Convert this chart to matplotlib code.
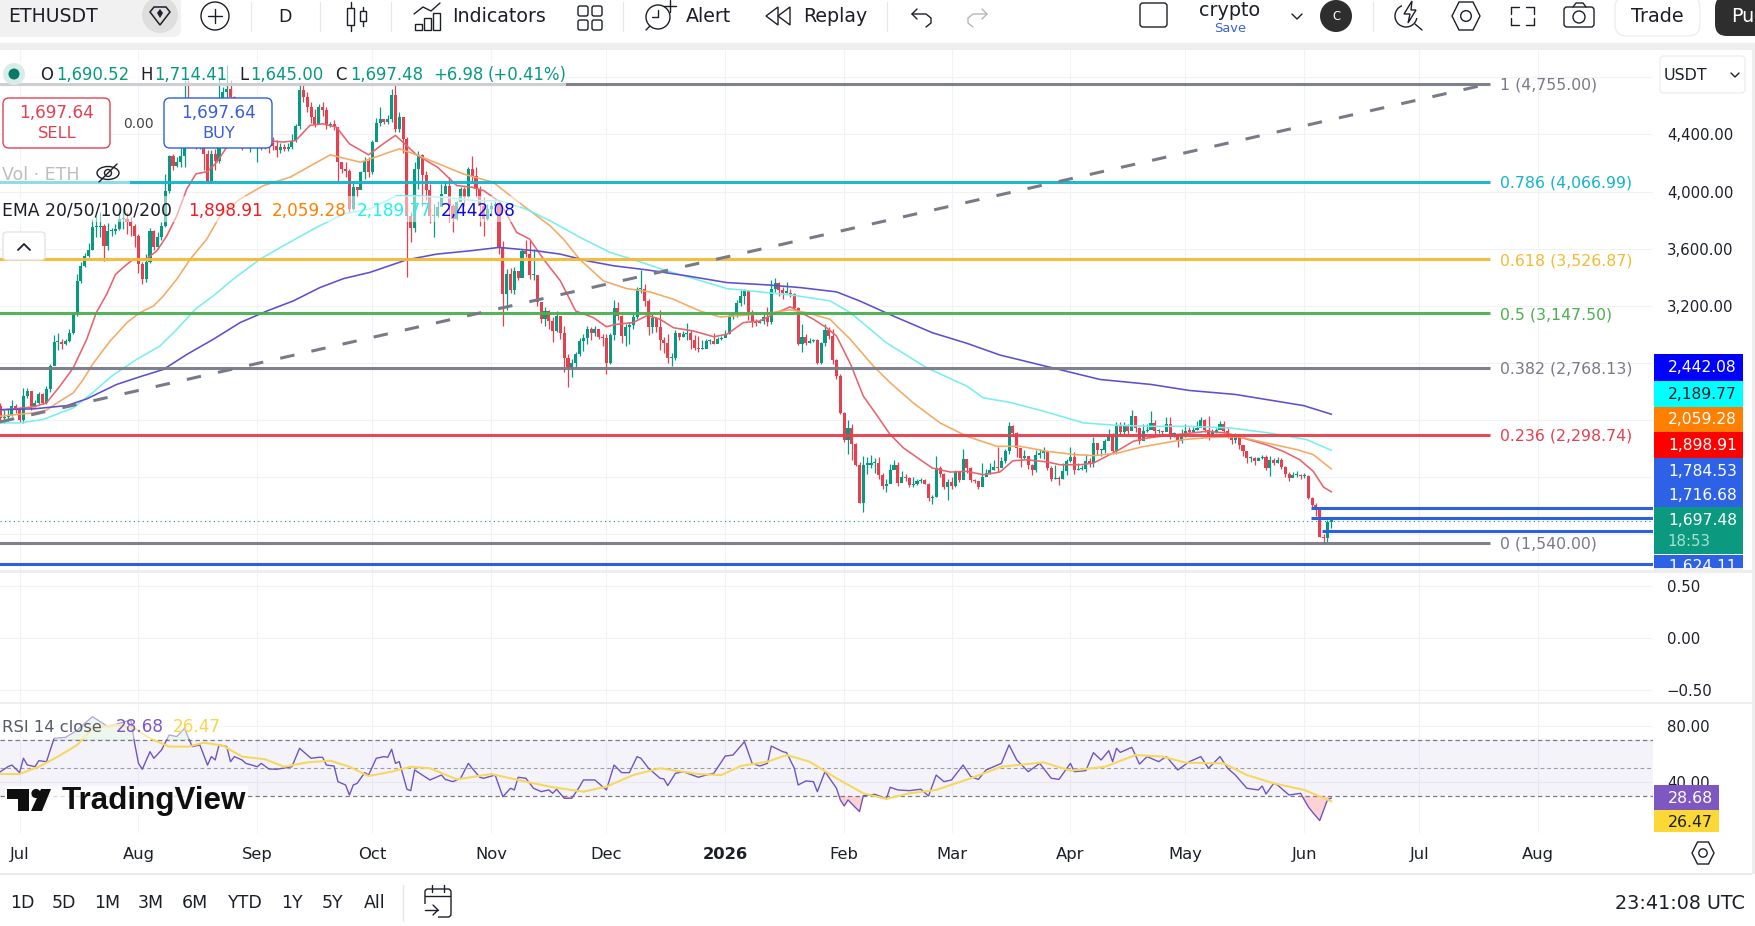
import numpy as np
import matplotlib
matplotlib.use('Agg')
import matplotlib.pyplot as plt
from matplotlib.patches import Rectangle, FancyBboxPatch, Circle, Ellipse, Polygon

W, H = 1755, 926

# daily candles, day 0 = 1 Jul 2025
closes = [
    2416, 2423, 2439, 2498, 2475, 2404, 2568, 2603, 2498, 2521,
    2580, 2521, 2615, 2779, 2947, 2947, 2930, 2954, 3012, 3141,
    3375, 3480, 3546, 3593, 3749, 3749, 3761, 3620, 3726, 3726,
    3738, 3808, 3808, 3784, 3761, 3691, 3492, 3387, 3504, 3726,
    3609, 3679, 3761, 4006, 4252, 4182, 4205, 4252, 4650, 4550,
    4450, 4350, 4400, 4264, 4065, 4264, 4217, 4650, 4700, 4720,
    4661, 4580, 4500, 4450, 4400, 4420, 4360, 4390, 4340, 4360,
    4340, 4320, 4290, 4310, 4300, 4310, 4357, 4462, 4708, 4662,
    4591, 4521, 4474, 4591, 4568, 4463, 4474, 4451, 4205, 4159,
    4147, 3878, 4030, 4014, 4140, 4217, 4135, 4350, 4481, 4509,
    4486, 4509, 4678, 4439, 4521, 4369, 3831, 3742, 4159, 4257,
    4117, 4014, 3831, 3831, 3890, 3983, 4042, 3901, 3808, 3925,
    4018, 3960, 4159, 4112, 4018, 3901, 3808, 3878, 3901, 3913,
    3609, 3281, 3422, 3312, 3445, 3398, 3586, 3562, 3415, 3415,
    3228, 3106, 3164, 3094, 3024, 3129, 3012, 2837, 2767, 2802,
    2860, 2954, 2977, 3036, 3008, 3036, 2984, 2977, 2797, 2996,
    3188, 3129, 2989, 3054, 3064, 3125, 3316, 3321, 3235, 3054,
    3118, 3054, 2961, 2940, 2837, 2837, 3012, 2985, 3001, 3012,
    2961, 2907, 2900, 2900, 2954, 2954, 2930, 2970, 2975, 3005,
    3129, 3141, 3223, 3270, 3305, 3158, 3094, 3083, 3094, 3125,
    3087, 3321, 3363, 3312, 3293, 3293, 3281, 3188, 2931, 2984,
    2942, 2954, 2958, 2802, 2938, 3031, 2989, 2821, 2708, 2451,
    2264, 2346, 2236, 2089, 1820, 2089, 2089, 2100, 2100, 2018,
    1941, 1955, 2053, 2089, 1960, 2002, 1993, 1948, 1955, 1972,
    1978, 1955, 1855, 1862, 2065, 2025, 1929, 1964, 1937, 2037,
    1983, 2128, 2065, 1979, 1972, 1932, 2002, 2030, 2053, 2072,
    2065, 2112, 2182, 2357, 2311, 2205, 2135, 2152, 2088, 2049,
    2159, 2170, 2182, 2065, 1988, 1995, 1990, 2042, 2112, 2142,
    2053, 2058, 2060, 2112, 2100, 2240, 2189, 2194, 2252, 2299,
    2182, 2369, 2318, 2362, 2322, 2428, 2346, 2257, 2322, 2334,
    2381, 2322, 2322, 2315, 2376, 2299, 2299, 2252, 2299, 2322,
    2320, 2334, 2345, 2404, 2329, 2299, 2315, 2334, 2376, 2322,
    2287, 2264, 2299, 2229, 2182, 2135, 2135, 2112, 2135, 2142,
    2065, 2123, 2100, 2123, 2072, 2025, 1998, 2018, 2018, 2006,
    2006, 1854, 1807, 1768, 1585, 1574, 1690.52, 1697.48,
]
highs = [
    2520, 2470, 2480, 2540, 2510, 2490, 2625, 2625, 2605, 2540,
    2600, 2590, 2640, 2790, 2998, 3010, 2970, 2970, 3040, 3155,
    3420, 3510, 3570, 3640, 3810, 3830, 3860, 3770, 3780, 3745,
    3775, 3870, 3880, 3860, 3820, 3770, 3700, 3510, 3560, 3745,
    3730, 3720, 3790, 4120, 4255, 4260, 4240, 4330, 4778, 4778,
    4560, 4430, 4450, 4420, 4290, 4290, 4300, 4800, 4730, 4888,
    4780, 4670, 4590, 4520, 4460, 4470, 4440, 4430, 4410, 4400,
    4390, 4380, 4360, 4340, 4330, 4340, 4400, 4475, 4743, 4755,
    4697, 4626, 4580, 4615, 4626, 4591, 4490, 4498, 4451, 4205,
    4205, 4159, 4065, 4030, 4147, 4240, 4240, 4358, 4514, 4591,
    4509, 4533, 4720, 4748, 4556, 4521, 4381, 3855, 4205, 4287,
    4264, 4147, 4053, 3913, 3936, 4053, 4077, 4100, 3913, 3936,
    4030, 4030, 4170, 4247, 4170, 4042, 3960, 3913, 3925, 3936,
    3890, 3656, 3461, 3468, 3470, 3430, 3600, 3660, 3660, 3600,
    3290, 3230, 3190, 3170, 3120, 3165, 3120, 3060, 2860, 2830,
    2880, 2975, 3000, 3060, 3050, 3060, 3030, 3005, 3000, 3010,
    3240, 3230, 3135, 3070, 3090, 3150, 3330, 3450, 3350, 3250,
    3140, 3120, 3170, 2985, 3000, 2870, 3030, 3000, 3025, 3080,
    3030, 2995, 2990, 2960, 2970, 2965, 3010, 2985, 2990, 3030,
    3140, 3160, 3240, 3310, 3320, 3310, 3170, 3110, 3110, 3140,
    3190, 3380, 3395, 3365, 3330, 3370, 3320, 3290, 3190, 3070,
    3000, 2975, 2970, 2970, 2950, 3070, 3050, 3040, 2830, 2720,
    2460, 2400, 2375, 2240, 2105, 2150, 2140, 2155, 2135, 2140,
    2030, 1985, 2095, 2120, 2105, 2045, 2025, 2000, 2000, 1985,
    1995, 1990, 1960, 1875, 2150, 2080, 2030, 1990, 2000, 2050,
    2040, 2200, 2130, 2070, 1990, 1975, 2100, 2060, 2100, 2120,
    2215, 2140, 2200, 2385, 2365, 2320, 2160, 2190, 2130, 2095,
    2190, 2195, 2210, 2170, 2080, 2085, 2010, 2100, 2130, 2215,
    2175, 2100, 2085, 2165, 2135, 2280, 2240, 2200, 2270, 2335,
    2310, 2390, 2390, 2385, 2370, 2470, 2420, 2350, 2375, 2370,
    2465, 2400, 2335, 2325, 2420, 2420, 2320, 2300, 2335, 2375,
    2355, 2350, 2395, 2420, 2410, 2430, 2340, 2345, 2395, 2395,
    2345, 2300, 2310, 2300, 2220, 2180, 2150, 2145, 2140, 2155,
    2155, 2150, 2135, 2145, 2135, 2080, 2035, 2040, 2045, 2025,
    2030, 2015, 1860, 1820, 1780, 1605, 1700, 1714.41,
]
lows = [
    2380, 2380, 2395, 2430, 2450, 2385, 2380, 2555, 2470, 2490,
    2510, 2510, 2510, 2600, 2785, 2890, 2900, 2925, 2950, 3005,
    3130, 3360, 3470, 3540, 3590, 3680, 3680, 3515, 3590, 3690,
    3700, 3730, 3740, 3700, 3690, 3610, 3430, 3350, 3370, 3500,
    3590, 3600, 3660, 3750, 3990, 4150, 4170, 4170, 4170, 4400,
    4320, 4300, 4300, 4150, 4060, 4060, 4150, 4200, 4620, 4640,
    4640, 4520, 4420, 4290, 4330, 4280, 4320, 4205, 4290, 4300,
    4270, 4290, 4240, 4270, 4285, 4285, 4300, 4345, 4440, 4630,
    4560, 4480, 4450, 4480, 4530, 4440, 4450, 4430, 4072, 4130,
    4100, 3850, 3870, 3960, 4120, 4090, 4100, 4120, 4440, 4460,
    4470, 4470, 4490, 4420, 4420, 4270, 3400, 3650, 3720, 4020,
    3900, 3940, 3780, 3680, 3825, 3900, 3990, 3790, 3714, 3800,
    3950, 3900, 3960, 4060, 3960, 3760, 3690, 3800, 3830, 3880,
    3560, 3060, 3171, 3290, 3280, 3380, 3400, 3540, 3390, 3380,
    3200, 3080, 3060, 3040, 2945, 3020, 2965, 2735, 2630, 2700,
    2770, 2850, 2884, 2930, 2960, 2990, 2970, 2920, 2720, 2790,
    2960, 3100, 2940, 2920, 2930, 3040, 3110, 3290, 3200, 2995,
    3010, 3020, 2890, 2870, 2800, 2780, 2820, 2960, 2980, 2960,
    2900, 2890, 2880, 2895, 2930, 2930, 2930, 2955, 2960, 2990,
    3000, 3110, 3120, 3200, 3210, 3100, 3050, 3060, 3080, 3070,
    3060, 3070, 3300, 3270, 3250, 3290, 3260, 3180, 2925, 2880,
    2925, 2940, 2950, 2790, 2790, 2920, 2970, 2790, 2690, 2440,
    2245, 2160, 2120, 2080, 1820, 1755, 2025, 2065, 2030, 1990,
    1920, 1900, 1985, 2060, 1940, 1980, 1975, 1930, 1935, 1945,
    1960, 1950, 1835, 1810, 1865, 2000, 1920, 1843, 1920, 1930,
    1965, 2000, 2030, 1965, 1960, 1915, 1980, 2010, 2020, 2050,
    2040, 2095, 2100, 2165, 2290, 2145, 2075, 2125, 2055, 2015,
    2040, 2135, 2130, 2050, 1975, 1985, 1945, 1985, 2015, 2110,
    2020, 2050, 2050, 2035, 2070, 2070, 2155, 2150, 2170, 2260,
    2160, 2165, 2290, 2305, 2300, 2340, 2320, 2235, 2310, 2320,
    2360, 2300, 2310, 2305, 2335, 2270, 2285, 2215, 2240, 2280,
    2300, 2320, 2330, 2380, 2320, 2260, 2290, 2310, 2355, 2310,
    2275, 2230, 2240, 2195, 2150, 2100, 2110, 2085, 2125, 2125,
    2050, 2010, 2085, 2100, 2060, 2005, 1975, 2000, 2005, 1990,
    1995, 1845, 1795, 1730, 1580, 1530, 1545, 1645,
]
first_day = -5
first_open = 2500

ema20_days = [-5, 3.6, 7, 10.5, 14, 17.5, 20, 22.7, 25, 27.5, 29.7, 33, 35.8, 38.4, 41, 43.6, 46, 49, 51.4, 54, 60, 64.7, 68.7, 72,
              75.7, 79, 82.6, 86, 91, 94.8, 98, 100.9, 103.5, 109, 114, 118, 121, 125.3, 129.6, 133, 136.6, 141, 145, 149.6, 153,
              155.6, 160, 163.7, 167, 170.5, 175.7, 181, 184.4, 188.7, 193, 196.5, 200.9, 203, 207, 210.4, 213, 216.7, 220, 223.7,
              227, 230.5, 234.8, 238, 242.7, 247, 251.3, 255.6, 259, 262.7, 268, 271.3, 276.5, 280, 283.4, 287, 290.4, 294, 299,
              303.4, 309.5, 314.8, 319, 325, 329.5, 333.8, 337.3, 340, 342]
ema20 = [2470, 2493, 2521, 2638, 2767, 2966, 3153, 3281, 3420, 3480, 3527, 3527, 3585, 3691, 3831, 4018, 4124, 4140, 4205, 4310, 4350, 4357, 4346, 4357,
         4463, 4474, 4451, 4334, 4257, 4334, 4393, 4322, 4257, 4170, 4042, 4030, 4007, 3925, 3714, 3667, 3527, 3375, 3164, 3118, 3054,
         3071, 3083, 3134, 3106, 3047, 3024, 2984, 3001, 3083, 3094, 3141, 3193, 3164, 3106, 3047, 2989, 2790, 2568, 2428,
         2299, 2205, 2124, 2065, 2037, 2042, 2018, 2037, 2116, 2123, 2107, 2088, 2088, 2100, 2147, 2198, 2252, 2275, 2292,
         2304, 2322, 2310, 2275, 2229, 2182, 2123, 2042, 1931, 1898.91]

ema50_days = [-5, 3.6, 7, 10.5, 14, 16.6, 19, 23.6, 28, 31.4, 34.9, 37.5, 41, 44.5, 48.8, 52.3, 57.5, 63.6, 70.5, 81, 88.9, 99, 103.5, 115.7,
              123.5, 129.6, 138.3, 141.8, 146, 152.2, 158.3, 164.3, 170.5, 177.4, 182.7, 188.7, 194.8, 200.9, 205.2, 211.3, 216.6, 222.6,
              227, 233, 240, 247, 254.8, 260.9, 268, 275, 280.3, 286.4, 292.4, 303.4, 312, 318, 325.3, 333, 337.3, 342]
ema50 = [2428, 2451, 2470, 2533, 2591, 2685, 2790, 2954, 3083, 3153, 3199, 3270, 3387, 3527, 3667, 3831, 3948, 4042, 4100, 4257, 4205, 4299, 4257, 4123,
         4065, 3936, 3761, 3667, 3527, 3375, 3321, 3298, 3246, 3164, 3122, 3134, 3148, 3172, 3153, 3106, 2966, 2779,
         2662, 2521, 2381, 2287, 2217, 2217, 2182, 2159, 2152, 2170, 2212, 2264, 2282, 2282, 2240, 2194, 2159, 2059.28]

ema100_days = [-5, 0, 6, 14, 19, 24, 30.5, 36.6, 41, 46, 50.5, 55.7, 62.7, 68.8, 77.4, 84.5, 91.3, 98.3, 103.5, 110.5, 119, 125.3, 132, 138.3,
               147, 154, 161.8, 168.8, 175.7, 184.4, 193, 201.8, 211.3, 216.6, 226, 236.5, 247, 251.3, 258, 267, 277.4, 286, 295, 305, 315.6,
               326, 335.6, 342]
ema100 = [2381, 2381, 2404, 2486, 2591, 2708, 2825, 2919, 3036, 3181, 3270, 3387, 3527, 3621, 3749, 3843, 3878, 3971, 3971, 3960, 3936, 3936, 3878, 3796,
          3667, 3574, 3508, 3445, 3391, 3321, 3298, 3274, 3235, 3153, 2942, 2767, 2638, 2556, 2526, 2463, 2381, 2364, 2357, 2357, 2346,
          2310, 2264, 2189.77]

ema200_days = [-5, 3.6, 12.3, 17.5, 25.3, 31.4, 37.5, 43.6, 50.5, 57.5, 64.5, 71.4, 78.3, 84.5, 91.3, 100.9, 108.7, 117.4, 125, 134.8, 141, 148,
               155, 163.5, 174, 184.4, 194.8, 203.5, 213, 219, 227.8, 238, 247, 255.6, 281.7, 295, 305, 317, 334.8, 342]
ema200 = [2474, 2479, 2502, 2549, 2650, 2704, 2755, 2860, 2966, 3083, 3164, 3235, 3328, 3391, 3434, 3522, 3562, 3585, 3609, 3585, 3562, 3515,
          3480, 3452, 3410, 3363, 3347, 3328, 3298, 3235, 3129, 3012, 2938, 2856, 2685, 2650, 2608, 2580, 2502, 2442.08]

rsi_days = [-5, -3, -2, 0, 1, 2, 4, 5, 7, 9, 12, 15, 19, 23, 29, 30, 31, 32, 34, 35, 37, 39, 41, 43, 45, 47, 49, 50, 51, 52, 54, 55, 56, 58, 59,
            62, 63, 65, 67, 71, 73, 76, 78, 79, 80, 82, 83, 85, 86, 87, 88, 90, 91, 93, 95, 96, 97, 98, 99, 101, 102, 103, 105, 107, 110, 111,
            113, 115, 117, 118, 120, 121, 124, 126, 128, 129, 130, 132, 134, 136, 138, 139, 140, 142, 144, 146, 147, 150, 153, 155, 157, 159,
            161, 162, 164, 167, 168, 169, 171, 173, 177, 179, 181, 184, 186, 189, 191, 193, 195, 196, 199, 200, 202, 203, 205, 207, 208, 210,
            213, 214, 215, 216, 219, 220, 223, 226, 227, 229, 232, 235, 237, 239, 241, 243, 246, 248, 250, 252, 256, 258, 260, 263, 266, 269,
            271, 274, 275, 278, 280, 282, 284, 285, 286, 287, 290, 292, 294, 297, 299, 302, 305, 308, 310, 313, 315, 317, 320, 323, 324, 325,
            327, 328, 331, 334, 336, 337, 339, 341, 342]
rsi = [47.5, 51.1, 52.2, 46.8, 57, 52.3, 51, 55.3, 54.6, 71.2, 71.9, 77, 86.6, 79.5, 84.2, 67.6, 53.4, 49.2, 61.7, 57, 62.9, 73.6, 72.4, 78.3, 65.3, 66.5, 52.2, 58.2, 55.8, 66.5, 65.3, 54.6, 58.2, 55.8, 53.4,
       51, 53.4, 49.4, 49.2, 51, 64.1, 57, 57.7, 57.7, 52.2, 51.5, 40.4, 38, 30.9, 38, 39.2, 46.8, 45.1, 57, 58.2, 57.7, 63.4, 53.4, 54.6, 35, 34, 48.7, 45.1, 41.6, 45.1, 42,
       40.4, 42.8, 53.4, 49.9, 43.5, 42.8, 45.1, 29.7, 35.7, 34.5, 43.5, 42.8, 35.7, 33.3, 34.5, 32.1, 35, 28.6, 28.6, 36.8, 41.6, 41.6, 34.5, 52.2, 46.8, 46.8,
       58.2, 57, 49.9, 42.8, 42.3, 37.6, 46.3, 47.5, 43.5, 45.1, 46.3, 58.6, 59.3, 68.8, 53.4, 51.5, 53.4, 65.7, 61.7, 61, 49.9, 38, 40.9, 40.4, 33.3, 47.5,
       35.7, 27.4, 23.1, 27.4, 19.1, 30.4, 31.4, 28.1, 36.4, 34.5, 34, 35, 30.2, 45.1, 40.4, 41.6, 52.2, 44, 42, 48.7, 53.4, 66.5, 55.8, 47.5, 53.4, 42.8,
       42, 53.4, 47.5, 48.2, 61, 55.8, 62.4, 54.6, 64.1, 61.2, 64.8, 52.9, 58.2, 54.6, 58.2, 48.7, 54.6, 58.2, 49.9, 58.2, 49.9, 45.1, 35.7, 34.5, 37.3, 31.6,
       39.2, 38, 30.9, 32.1, 22.6, 19.1, 12.7, 27.4, 28.68]

rsi_ma_days = [-5, 0, 5, 10, 15, 19, 25, 30, 34, 39, 44, 48, 53, 58, 64, 69, 75, 81, 86, 91, 97, 102, 107, 114, 123, 132, 139, 147, 153, 160, 167, 177,
               183, 188, 195, 200, 206, 213, 220, 226, 232, 239, 248, 256, 267, 274, 283, 291, 298, 304, 314, 320, 327, 335, 342]
rsi_ma = [45.8, 45.8, 51, 58.2, 66.4, 78.3, 80.7, 78.3, 71.2, 65.3, 65.3, 68.1, 66, 58.2, 56.3, 51, 54.1, 55.3, 51, 44.4, 47.5, 51, 49.9, 42, 45.8, 40.4, 36.4, 33.3, 36.8, 45.1, 49.9, 45.8,
          45.1, 51.5, 54.6, 59.3, 54.6, 42.8, 32.1, 28.1, 32.1, 34.5, 42.8, 51, 54.1, 48.2, 51, 59.3, 58.2, 53.9, 53.4, 45.1, 39.2, 34.5, 26.47]

fib_ratios = ['1', '0.786', '0.618', '0.5', '0.382', '0.236', '0']
fib_prices = [4755.00, 4066.99, 3526.87, 3147.50, 2768.13, 2298.74, 1540.00]
fib_colors = ['#787b86', '#12b5cb', '#f5b935', '#4caf50', '#787b86', '#e5404f', '#787b86']

order_prices = [1784.53, 1716.68, 1624.11, 1391]
order_starts = [336.7, 336.7, 339.6, -6]

month_days = [0, 31, 62, 92, 123, 153, 184, 215, 243, 274, 304, 335, 365, 396]
month_names = ['Jul', 'Aug', 'Sep', 'Oct', 'Nov', 'Dec', '2026', 'Feb', 'Mar', 'Apr', 'May', 'Jun', 'Jul', 'Aug']

price_grid = [1600, 2000, 2400, 2800, 3200, 3600, 4000, 4400, 4800]
price_labels = ['', '', '', '', '3,200.00', '3,600.00', '4,000.00', '4,400.00', '']

GREEN = '#089981'
RED = '#e5404f'
BLUE = '#2b60e0'
GRID = '#f1f2f5'
DARK = '#1c1f28'
GRAY = '#787b86'


def panel(left, top, right, bottom):
    return fig.add_axes([left / W, 1 - bottom / H, (right - left) / W, (bottom - top) / H])


def style_panel(ax):
    for s in ax.spines.values():
        s.set_visible(False)
    ax.set_xlim(-5.11, 425.9)
    ax.set_xticks(month_days)
    ax.xaxis.grid(True, color=GRID, lw=0.8)
    ax.yaxis.grid(True, color=GRID, lw=0.8)
    ax.set_axisbelow(True)
    ax.yaxis.tick_right()
    ax.tick_params(length=0, labelbottom=False, labelsize=10.7, labelcolor=DARK, pad=10)


fig = plt.figure(figsize=(W / 100, H / 100), dpi=100, facecolor='white')

# price pane
ax = panel(0, 50, 1653, 571)
style_panel(ax)
ax.set_ylim(1344.5, 4990.6)
ax.set_yticks(price_grid)
ax.set_yticklabels(price_labels)

days = np.arange(first_day, first_day + len(closes))
closes_arr = np.array(closes)
opens_arr = np.r_[first_open, closes_arr[:-1]]
colors = np.where(closes_arr >= opens_arr, GREEN, RED)
ax.vlines(days, lows, highs, colors=colors, lw=0.9, zorder=2)
ax.bar(days, np.maximum(np.abs(closes_arr - opens_arr), 8), bottom=np.minimum(opens_arr, closes_arr),
       width=0.8, color=colors, linewidth=0, zorder=3)

ax.plot(ema20_days, ema20, color='#e9636d', lw=1.15, zorder=4)
ax.plot(ema50_days, ema50, color='#f5a964', lw=1.15, zorder=4)
ax.plot(ema100_days, ema100, color='#78eeee', lw=1.15, zorder=4)
ax.plot(ema200_days, ema200, color='#5c4fd0', lw=1.15, zorder=4)

ax.axhline(closes[-1], color=GREEN, lw=0.8, ls=(0, (1, 3)), zorder=3)

# fibonacci retracement with its trend line
fib_end = 383.3
for ratio, price, col in zip(fib_ratios, fib_prices, fib_colors):
    ax.plot([-6, fib_end], [price, price], color=col, lw=2.2, alpha=0.95, zorder=5, solid_capstyle='butt')
    ax.annotate('%s (%s)' % (ratio, format(price, ',.2f')), (386, price), xytext=(0, -1), textcoords='offset points',
                color=col, fontsize=11.3, va='center', ha='left', zorder=6, annotation_clip=False)
ax.plot([-5.11, fib_end], [2388, 4755], color=GRAY, lw=2.2, ls=(0, (4.75, 5.7)), zorder=5)

for price, start in zip(order_prices, order_starts):
    ax.plot([start, 426], [price, price], color=BLUE, lw=2.2, zorder=6, solid_capstyle='butt')

# empty study pane
ax_mid = panel(0, 571, 1653, 703)
style_panel(ax_mid)
ax_mid.set_ylim(-0.631, 0.65)
ax_mid.set_yticks([0.5, 0, -0.5])
ax_mid.set_yticklabels(['0.50', '0.00', '\u22120.50'])

# RSI pane
ax_rsi = panel(0, 703, 1653, 833)
style_panel(ax_rsi)
ax_rsi.set_ylim(3.9, 96.3)
ax_rsi.set_yticks([80, 40])
ax_rsi.set_yticklabels(['80.00', '40.00'])
ax_rsi.axhspan(30, 70, color='#7e57c2', alpha=0.07, lw=0, zorder=1)
for level in [70, 30]:
    ax_rsi.axhline(level, color=GRAY, lw=0.9, ls=(0, (3.5, 2.5)), zorder=2)
ax_rsi.axhline(50, color=GRAY, lw=0.8, alpha=0.7, ls=(0, (3.5, 2.5)), zorder=2)
ax_rsi.fill_between(rsi_days, rsi, 70, where=np.array(rsi) > 70, interpolate=True, color='#4caf50', alpha=0.2, lw=0, zorder=2)
ax_rsi.fill_between(rsi_days, rsi, 30, where=np.array(rsi) < 30, interpolate=True, color='#f23645', alpha=0.22, lw=0, zorder=2)
ax_rsi.plot(rsi_days, rsi, color='#6f55bd', lw=1.0, zorder=3)
ax_rsi.plot(rsi_ma_days, rsi_ma, color='#f6d860', lw=1.5, zorder=4)

ax_rsi.tick_params(labelbottom=True, axis='x', labelcolor=DARK, labelsize=11.8, pad=10)
ax_rsi.set_xticklabels(month_names)
for lab in ax_rsi.get_xticklabels():
    if lab.get_text() == '2026':
        lab.set_fontweight('bold')

# toolbars, legends and price tags are placed in screen pixels
ui = fig.add_axes([0, 0, 1, 1], facecolor='none')
ui.set_xlim(0, W)
ui.set_ylim(H, 0)
ui.axis('off')


def txt(x, y, s, color=DARK, size=11.9, ha='left', **kw):
    ui.text(x, y + 1.5, s, color=color, fontsize=size, ha=ha, va='center', **kw)


def line(xs, ys, color=DARK, lw=1.0):
    ui.plot(xs, ys, color=color, lw=lw, solid_capstyle='round', solid_joinstyle='round', zorder=5)


def box(x0, y0, x1, y1, fc='white', ec='none', lw=1.0, pad=3, alpha=None, z=1):
    ui.add_patch(FancyBboxPatch((x0 + pad, y0 + pad), x1 - x0 - 2 * pad, y1 - y0 - 2 * pad, boxstyle='round,pad=%d' % pad,
                                fc=fc, ec=ec, lw=lw, alpha=alpha, zorder=z))


def rect(x0, y0, x1, y1, fc='white', alpha=None, z=1):
    ui.add_patch(Rectangle((x0, y0), x1 - x0, y1 - y0, fc=fc, ec='none', alpha=alpha, zorder=z))


def circle(x, y, r, fc='none', ec=DARK, lw=1.0, z=3):
    ui.add_patch(Circle((x, y), r, fc=fc, ec=ec, lw=lw, zorder=z))


def hexagon(x, y, r, lw=1.0):
    ui.add_patch(Polygon([(x - r, y), (x - r / 2, y - r), (x + r / 2, y - r), (x + r, y), (x + r / 2, y + r), (x - r / 2, y + r)],
                         closed=True, fc='none', ec=DARK, lw=lw, zorder=3))
    circle(x, y, r * 0.38, lw=lw)


# top bar
rect(0, 0, W, 43)
rect(0, 43, W, 50, fc='#eeeeee')
box(-20, -10, 181, 37, fc='#f1f1f1', pad=8)
ui.add_patch(Circle((160, 15), 18, fc='#dedede', ec='none', zorder=2))
ui.add_patch(Polygon([(150, 12), (154, 7), (166, 7), (170, 12), (160, 25)], fc='none', ec=DARK, lw=1.1, zorder=3))
ui.add_patch(Polygon([(160, 9), (163, 13), (160, 18), (157, 13)], fc=DARK, ec='none', zorder=3))
txt(8, 15, 'ETHUSDT', size=13.6, fontweight='medium')
circle(215, 16, 14)
line([208, 222], [16, 16])
line([215, 215], [9, 23])
for sep in [251, 320, 391, 623, 887, 1373]:
    line([sep, sep], [2, 31], color='#e8e8e8', lw=0.9)
txt(285, 15, 'D', size=12.5, ha='center')
# candle icon
line([351, 351], [2, 31])
ui.add_patch(Rectangle((347, 8), 7, 17, fc='white', ec=DARK, lw=1.0, zorder=5.5))
line([363, 363], [7, 26])
ui.add_patch(Rectangle((360, 11), 6, 10, fc='white', ec=DARK, lw=1.0, zorder=5.5))
# indicators icon
line([414, 423, 431, 440], [14, 7, 11, 3])
for bx, bt in [(415, 24), (424, 18), (433, 13)]:
    ui.add_patch(Rectangle((bx, bt), 7, 30 - bt, fc='white', ec=DARK, lw=1.0, zorder=3))
txt(452, 15, 'Indicators', size=13.7)
for gx in [578, 592]:
    for gy in [6, 20]:
        box(gx, gy, gx + 10, gy + 10, fc='white', ec=DARK, pad=2, z=3)
# alert icon
circle(658, 17, 12)
line([652, 658, 658], [17, 17, 10])
line([650, 646], [26, 30])
line([664, 676], [6, 6])
line([670, 670], [0, 12])
txt(686, 15, 'Alert', size=13.7)
# replay icon
ui.add_patch(Polygon([(778, 7), (778, 25), (766, 16)], fc='none', ec=DARK, lw=1, zorder=3))
ui.add_patch(Polygon([(790, 7), (790, 25), (778, 16)], fc='none', ec=DARK, lw=1, zorder=3))
txt(803, 15, 'Replay', size=13.7)
line([917, 912, 917], [9, 14, 19])
line([912, 926, 931, 931, 926], [14, 14, 18, 23, 27])
line([982, 987, 982], [9, 14, 19], color='#b6b6b6')
line([987, 973, 968, 968, 973], [14, 14, 18, 23, 27], color='#b6b6b6')
box(1140, 3, 1167, 27, fc='white', ec=DARK, pad=3, z=3)
txt(1230, 9, 'crypto', size=13.8, ha='center')
txt(1230, 27, 'Save', color='#3b60d8', size=9.4, ha='center')
line([1292, 1297, 1302], [14, 19, 14])
ui.add_patch(Circle((1336, 16), 16, fc='#2e2e2e', ec='none', zorder=3))
ui.text(1336, 16, 'C', color='white', fontsize=8.4, ha='center', va='center', zorder=4)
# quick search
circle(1406, 16, 11)
rect(1402, 0, 1418, 18, z=3)
ui.add_patch(Polygon([(1412, 1), (1404, 14), (1410, 14), (1408, 23), (1416, 10), (1411, 10)], fc='white', ec=DARK, lw=1, zorder=4))
line([1415, 1422], [24, 30])
hexagon(1466, 16, 14)
for x0, x1, y0, y1 in [(1511, 1519, 7, 7), (1526, 1534, 7, 7), (1511, 1519, 25, 25), (1526, 1534, 25, 25)]:
    line([x0, x1], [y0, y1])
for x0, y0, y1 in [(1511, 7, 14), (1534, 7, 14), (1511, 18, 25), (1534, 18, 25)]:
    line([x0, x0], [y0, y1])
box(1564, 7, 1594, 27, fc='white', ec=DARK, pad=3, z=3)
line([1573, 1576, 1583, 1586], [7, 3, 3, 7])
circle(1579, 17, 6, z=4)
box(1615, -4, 1700, 36, fc='white', ec='#eeeeee', pad=12, z=3)
txt(1657, 15, 'Trade', size=13.8, ha='center', zorder=4)
box(1715, -4, 1790, 36, fc='#2e2e2e', pad=12, z=3)
txt(1731, 15, 'Pu', color='white', size=13.8, zorder=4)

# currency selector
box(1660, 56, 1745, 93, fc='white', ec='#eeeeee', pad=4, z=3)
txt(1664, 74, 'USDT', size=11.4, zorder=4)
line([1731, 1735, 1739], [73, 77, 73])

# legend rows sit on translucent white so the candles fade behind them
rect(0, 61, 566, 86, alpha=0.62, z=2)
rect(0, 161, 130, 186, alpha=0.5, z=2)
rect(0, 196, 520, 222, alpha=0.5, z=2)
rect(0, 715, 225, 739, alpha=0.5, z=2)
ui.add_patch(Circle((14, 74), 11, fc='#d8ece8', ec='none', zorder=3))
ui.add_patch(Circle((14, 74), 5.5, fc='#0a7a66', ec='none', zorder=3))
for x, s, c in [(40, 'O', DARK), (56, '1,690.52', GREEN), (140, 'H', DARK), (154, '1,714.41', GREEN), (239, 'L', DARK),
                (250, '1,645.00', GREEN), (335, 'C', DARK), (350, '1,697.48', GREEN), (433, '+6.98', GREEN), (488, '(+0.41%)', GREEN)]:
    txt(x, 74, s, color=c, zorder=4)

box(3, 98, 110, 148, fc='white', ec='#e5404f', lw=1, pad=6, z=3)
txt(57, 112, '1,697.64', color='#e5404f', size=12.2, ha='center', zorder=4)
txt(57, 132, 'SELL', color='#e5404f', size=11.7, ha='center', zorder=4)
txt(138, 123, '0.00', color='#444444', size=10, ha='center', zorder=4)
box(164, 98, 272, 148, fc='white', ec='#2b60e0', lw=1, pad=6, z=3)
txt(219, 112, '1,697.64', color='#3b5fd8', size=12.2, ha='center', zorder=4)
txt(219, 132, 'BUY', color='#3b5fd8', size=11.7, ha='center', zorder=4)

txt(2, 173, 'Vol \u00b7 ETH', color='#bdbdbd', size=12.5, zorder=4)
ui.add_patch(Ellipse((108, 173), 22, 13, fc='none', ec=DARK, lw=1, zorder=4))
circle(108, 173, 3.5)
line([99, 117], [182, 164])

txt(2, 209, 'EMA 20/50/100/200', size=12.4, zorder=4)
for x, s, c in [(188, '1,898.91', '#f01c24'), (272, '2,059.28', '#ff8000'), (357, '2,189.77', '#1cf2f2'), (441, '2,442.08', '#0a0ae0')]:
    txt(x, 209, s, color=c, size=12.2, zorder=4)

box(3, 232, 45, 260, fc='white', ec='#e4e4e4', pad=4, z=3)
line([18, 24, 30], [250, 244, 250], lw=1.3)

# price axis tags
tags = [(354, 381, '#0000ff', '2,442.08', 'white'), (381, 407, '#00ffff', '2,189.77', DARK), (407, 432, '#ff8000', '2,059.28', 'white'),
        (432, 458, '#ff0000', '1,898.91', 'white'), (458, 484, '#2e62e6', '1,784.53', 'white'), (484, 507, '#2e62e6', '1,716.68', 'white')]
for y0, y1, fc, s, tc in tags:
    rect(1654, y0, 1743, y1, fc=fc, z=3)
    txt(1737, (y0 + y1) / 2 - 1, s, color=tc, size=11.2, ha='right', zorder=4, fontweight='medium')
rect(1654, 507, 1743, 554, fc='#0b9a80', z=3)
txt(1737, 519, '1,697.48', color='white', size=11.2, ha='right', zorder=4)
txt(1667, 540, '18:53', color='#a9dfd4', size=10.8, zorder=4)
rect(1654, 555, 1743, 571, fc='#2e62e6', z=3)
txt(1737, 565, '1,624.11', color='white', size=11.2, ha='right', zorder=4)
rect(1654, 568, 1743, 573, fc='#eeeeee', z=5)

rect(0, 570, 1752, 573, fc='#eeeeee', z=2)
rect(0, 702, 1752, 704, fc='#eeeeee', z=2)
rect(1752, 50, W, 874, fc='#eeeeee', z=2)

# RSI legend and tags
txt(2, 726, 'RSI 14 close', color='#555a66', size=11.8, zorder=4)
txt(116, 726, '28.68', color='#7e57c2', size=12.2, zorder=4)
txt(173, 726, '26.47', color='#f7d64a', size=12.2, zorder=4)
rect(1654, 785, 1719, 810, fc='#7e57c2', z=3)
txt(1713, 797, '28.68', color='white', size=11.3, ha='right', zorder=4)
rect(1654, 810, 1719, 832, fc='#fbd835', z=3)
txt(1713, 821, '26.47', color=DARK, size=11.3, ha='right', zorder=4)

# logo
rect(5, 786, 248, 816, alpha=0.75, z=3)
ui.add_patch(Polygon([(7, 789), (29, 789), (29, 811), (18, 811), (18, 799), (7, 799)], fc='#0f0f0f', ec='none', zorder=4))
ui.add_patch(Circle((36, 793.5), 4.6, fc='#0f0f0f', ec='none', zorder=4))
ui.add_patch(Polygon([(41, 789), (51, 789), (42, 811), (31, 811)], fc='#0f0f0f', ec='none', zorder=4))
ui.text(62, 801, 'TradingView', color='#0f0f0f', fontsize=22.6, fontweight='bold', family='Liberation Sans', ha='left', va='center', zorder=4)

# bottom bar
line([0, 1752], [874, 874], color='#e6e6e6', lw=1.2)
for x, s in zip([22, 64, 107, 151, 195, 245, 292, 333, 375], ['1D', '5D', '1M', '3M', '6M', 'YTD', '1Y', '5Y', 'All']):
    txt(x, 902, s, size=12.5, ha='center')
line([403, 403], [885, 921], color='#e6e6e6')
box(425, 889, 451, 917, fc='white', ec=DARK, pad=3, z=3)
rect(420, 904, 438, 920, z=3)
line([425, 450], [896, 896])
line([432, 432], [885, 892])
line([444, 444], [885, 892])
line([425, 438], [910, 910])
line([433, 438, 433], [905, 910, 915])
txt(1745, 902, '23:41:08 UTC', size=13.8, ha='right')
hexagon(1703, 853, 11)

fig.savefig('out.png', dpi=100)
